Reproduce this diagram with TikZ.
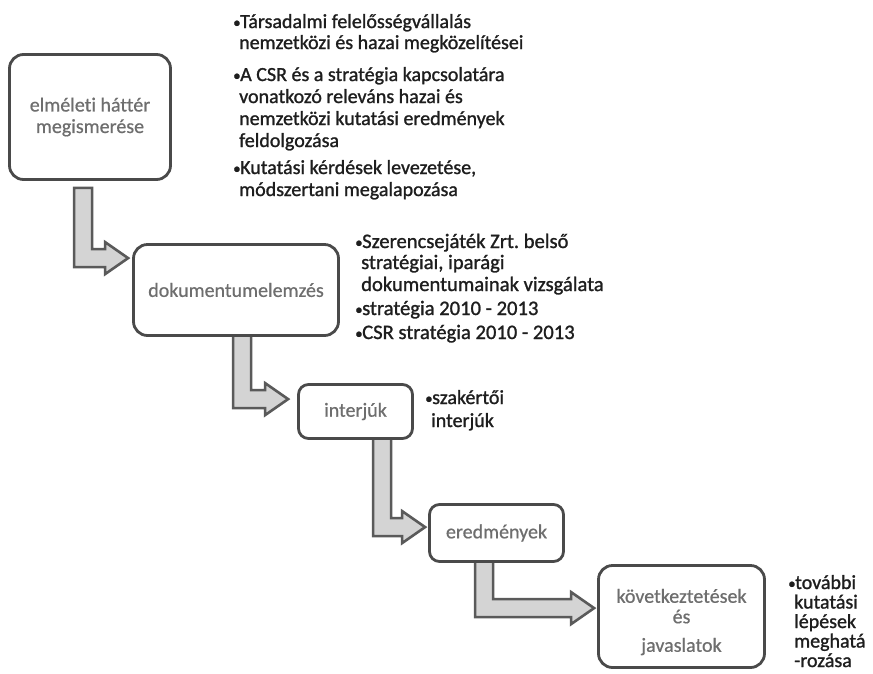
\documentclass[tikz,border=0pt]{standalone}
\usepackage{fontspec}
\setmainfont{Carlito}[Ligatures=CommonOff]
\newfontfamily\notefont{Carlito}[Ligatures=CommonOff,FakeBold=1.2]
\newfontfamily\boxfont{Carlito}[Ligatures=CommonOff,FakeBold=0.6]
\frenchspacing
\usetikzlibrary{calc,backgrounds}
\definecolor{boxline}{HTML}{4A4A4A}
\definecolor{boxtext}{HTML}{6E6E6E}
\definecolor{arrowfill}{HTML}{D4D4D4}
\definecolor{arrowline}{HTML}{5A5A5A}
\definecolor{notetext}{HTML}{1E1E1E}
\tikzset{
  stepbox/.style={draw=boxline, line width=2.8pt, rounded corners=14pt, fill=white,
    text=boxtext, align=center, inner sep=0pt, font=\boxfont\fontsize{20}{21.5}\selectfont},
  smallbox/.style={stepbox, rounded corners=10pt},
  note/.style={anchor=base west, inner sep=0pt, text=notetext, font=\notefont\fontsize{20}{21.5}\selectfont},
  widenote/.style={note, font=\notefont\fontsize{20.6}{21.5}\selectfont},
  blockarrow/.style={draw=arrowline, fill=arrowfill, line width=2.6pt, line join=miter},
}
\newcommand\bul{\makebox[7pt][l]{\raisebox{0.5pt}{\fontsize{15}{15}\selectfont •}}}
% #1 from, #2 to, #3 shaft x offset from #1 west, #4 top gap, #5 tip gap, #6 tip drop below #2 north
\newcommand\flowarrow[6]{%
  \draw[blockarrow] let \p1=(#1.south west), \p2=(#2.north west) in
   (\x1+#3, \y1-#4) -- (\x1+#3+18pt, \y1-#4) -- (\x1+#3+18pt, \y2-#6+9pt)
   -- (\x2-#5-23pt, \y2-#6+9pt) -- (\x2-#5-23pt, \y2-#6+16pt) -- (\x2-#5, \y2-#6)
   -- (\x2-#5-23pt, \y2-#6-16pt) -- (\x2-#5-23pt, \y2-#6-9pt) -- (\x1+#3, \y2-#6-9pt) -- cycle;}
\begin{document}
\begin{tikzpicture}[x=1pt,y=-1pt]
\useasboundingbox (0,0) rectangle (873,673);
% steps
\node[stepbox, minimum width=161pt, minimum height=125pt] (b1) at (90,117) {elméleti háttér\\megismerése};
\node[stepbox, minimum width=205pt, minimum height=91pt] (b2) at (236,290) {dokumentumelemzés};
\node[smallbox, minimum width=114pt, minimum height=54pt] (b3) at (355.5,411.5) {interjúk};
\node[smallbox, minimum width=134pt, minimum height=57pt] (b4) at (496.5,533) {eredmények};
\node[stepbox, minimum width=166pt, minimum height=102pt] (b5) at (681.5,616.5) {\rule{0pt}{25pt}következtetések\\[-1pt]és\\[7pt]javaslatok};
% arrows
\begin{scope}[on background layer]
\flowarrow{b1}{b2}{66pt}{7pt}{4pt}{15pt}
\flowarrow{b2}{b3}{101pt}{-2pt}{9pt}{16pt}
\flowarrow{b3}{b4}{76pt}{-2pt}{3pt}{24pt}
\flowarrow{b4}{b5}{47pt}{-2pt}{3pt}{44pt}
\end{scope}
% notes 1
\node[note] (n1) at (233,28) {\bul Társadalmi felelősségvállalás};
\node[note] (n2) at (239,49) {nemzetközi és hazai megközelítései};
\node[note] (n3) at (233,81) {\bul A CSR és a stratégia kapcsolatára};
\node[note] (n4) at (239,103) {vonatkozó releváns hazai és};
\node[note] (n5) at (239,125) {nemzetközi kutatási eredmények};
\node[note] (n6) at (239,147) {feldolgozása};
\node[note] (n7) at (233,174) {\bul Kutatási kérdések levezetése,};
\node[note] (n8) at (239,196) {módszertani megalapozása};
% notes 2
\node[widenote] (m1) at (355,248) {\bul Szerencsejáték Zrt. belső};
\node[widenote] (m2) at (361,269) {stratégiai, iparági};
\node[widenote] (m3) at (361,291) {dokumentumainak vizsgálata};
\node[widenote] (m4) at (355,315) {\bul stratégia 2010 - 2013};
\node[widenote] (m5) at (355,339) {\bul CSR stratégia 2010 - 2013};
% notes 3
\node[note] (k1) at (425,404) {\bul szakértői};
\node[note] (k2) at (431,427) {interjúk};
% notes 4
\node[note] (p1) at (788,589) {\bul további};
\node[note] (p2) at (794,608.5) {kutatási};
\node[note] (p3) at (794,628) {lépések};
\node[note] (p4) at (794,647.5) {meghatá};
\node[note] (p5) at (794,667) {-rozása};
\end{tikzpicture}
\end{document}
